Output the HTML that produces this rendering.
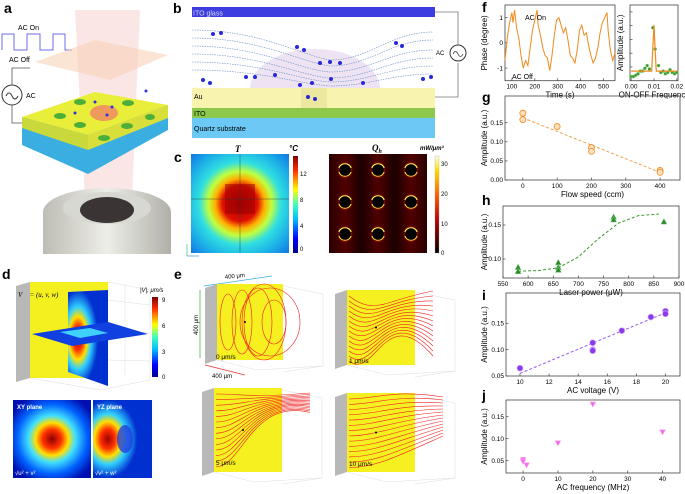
<!DOCTYPE html>
<html><head><meta charset="utf-8"><style>
html,body{margin:0;padding:0;background:#fff}
svg{display:block;font-family:"Liberation Sans",sans-serif}
</style></head><body>
<svg id="fig" width="685" height="494" viewBox="0 0 685 494" xmlns="http://www.w3.org/2000/svg">
<defs>
<linearGradient id="jetV" x1="0" y1="1" x2="0" y2="0"><stop offset="0" stop-color="#00008f"/><stop offset=".15" stop-color="#0000ff"/><stop offset=".35" stop-color="#00c0ff"/><stop offset=".5" stop-color="#40ffc0"/><stop offset=".65" stop-color="#ffff00"/><stop offset=".85" stop-color="#ff3000"/><stop offset="1" stop-color="#800000"/></linearGradient>
<linearGradient id="hot" x1="0" y1="1" x2="0" y2="0"><stop offset="0" stop-color="#000"/><stop offset=".35" stop-color="#c00000"/><stop offset=".6" stop-color="#ff6000"/><stop offset=".85" stop-color="#ffe000"/><stop offset="1" stop-color="#ffffe0"/></linearGradient>
<radialGradient id="tmap" cx=".5" cy=".5" r=".72"><stop offset="0" stop-color="#a00000"/><stop offset=".25" stop-color="#e01000"/><stop offset=".35" stop-color="#ffb000"/><stop offset=".45" stop-color="#c0ff40"/><stop offset=".58" stop-color="#30e0e0"/><stop offset=".8" stop-color="#1aa8e8"/><stop offset="1" stop-color="#1070e0"/></radialGradient>
<radialGradient id="vxy" cx=".5" cy=".5" r=".6"><stop offset="0" stop-color="#900000"/><stop offset=".2" stop-color="#ff3000"/><stop offset=".35" stop-color="#ffe000"/><stop offset=".5" stop-color="#40e0ff"/><stop offset=".75" stop-color="#0060ff"/><stop offset="1" stop-color="#0010b0"/></radialGradient>
<radialGradient id="vyz" cx=".25" cy=".5" r=".5"><stop offset="0" stop-color="#a00000"/><stop offset=".25" stop-color="#ff3000"/><stop offset=".45" stop-color="#ffe000"/><stop offset=".65" stop-color="#30d0ff"/><stop offset="1" stop-color="#0030d0"/></radialGradient>
<radialGradient id="glow" cx=".5" cy=".5" r=".5"><stop offset=".5" stop-color="#ff3000" stop-opacity=".9"/><stop offset="1" stop-color="#300000" stop-opacity="0"/></radialGradient>
<linearGradient id="qcol" x1="0" y1="0" x2="1" y2="0"><stop offset="0" stop-color="#2a0000"/><stop offset=".17" stop-color="#500000"/><stop offset=".33" stop-color="#1a0000"/><stop offset=".5" stop-color="#500000"/><stop offset=".67" stop-color="#1a0000"/><stop offset=".83" stop-color="#500000"/><stop offset="1" stop-color="#2a0000"/></linearGradient>
<linearGradient id="objg" x1="0" y1="0" x2="1" y2="0"><stop offset="0" stop-color="#bdbdb5"/><stop offset=".5" stop-color="#eeeee8"/><stop offset="1" stop-color="#b0b0a8"/></linearGradient>
</defs>

<g font-weight="bold" font-size="14" fill="#000">
<text x="4" y="13">a</text><text x="173" y="13">b</text><text x="174" y="162">c</text>
<text x="2" y="279">d</text><text x="174" y="279">e</text><text x="482" y="12">f</text>
<text x="482" y="102">g</text><text x="482" y="205">h</text><text x="482" y="300">i</text><text x="482" y="400">j</text>
</g>

<g>
<polyline points="2,50 2,34 14,34 14,50 27,50 27,34 40,34 40,50 53,50 53,34 65,34 65,50 72,50" fill="none" stroke="#6d6de8" stroke-width="1"/>
<text x="18" y="30" font-size="7">AC On</text><text x="9" y="62" font-size="7">AC Off</text>
<circle cx="12" cy="95" r="10" fill="none" stroke="#333"/><path d="M6,96 q3,-6 6,0 q3,6 6,0" fill="none" stroke="#333"/>
<text x="26" y="98" font-size="7">AC</text>
<polyline points="12,85 12,68 30,68" fill="none" stroke="#555" stroke-width=".8"/><polyline points="12,105 12,123 28,123" fill="none" stroke="#555" stroke-width=".8"/>
<polygon points="75,10 140,10 132,200 85,200" fill="#f6c8c8" opacity=".45"/>
<polygon points="22,117 22,145 88,174 168,130 168,105 88,135" fill="#3aaee0"/>
<polygon points="22,117 95,92 168,105 88,135" fill="#e9ee3a"/>
<polygon points="22,117 88,135 88,150 22,128" fill="#c9d83a"/>
<polygon points="88,135 168,105 168,118 88,150" fill="#d8df3a"/>
<g fill="#4caf3a"><ellipse cx="60" cy="116" rx="6" ry="3"/><ellipse cx="80" cy="125" rx="6" ry="3"/><ellipse cx="80" cy="102" rx="6" ry="3"/><ellipse cx="128" cy="103" rx="6" ry="3"/><ellipse cx="127" cy="126" rx="6" ry="3"/><ellipse cx="104" cy="138" rx="6" ry="3"/><ellipse cx="150" cy="117" rx="5" ry="3"/></g>
<ellipse cx="104" cy="113" rx="14" ry="8" fill="#f09060" opacity=".9"/>
<polygon points="35,62 95,40 168,55 110,80" fill="#f8d2b8" opacity=".6"/>
<ellipse cx="107" cy="212" rx="64" ry="24" fill="url(#objg)"/>
<rect x="43" y="212" width="128" height="42" fill="url(#objg)"/>
<ellipse cx="107" cy="208" rx="44" ry="16" fill="#d8d8d2"/>
<ellipse cx="107" cy="210" rx="27" ry="13" fill="#3a3434"/>
<g fill="#3030e0"><circle cx="95" cy="102" r="1.5"/><circle cx="112" cy="107" r="1.5"/><circle cx="75" cy="113" r="1.5"/><circle cx="146" cy="91" r="1.5"/><circle cx="107" cy="115" r="1.5"/></g>
</g>

<g>
<rect x="192" y="7" width="243" height="10" fill="#3c3ce0"/><text x="193" y="15.5" font-size="7" fill="#dde">ITO glass</text>
<ellipse cx="315" cy="89" rx="65" ry="40" fill="#e8dcf0" opacity=".8"/>
<rect x="192" y="88" width="243" height="20" fill="#f8f4b0"/>
<rect x="301" y="88" width="26" height="20" fill="#ece8a0"/>
<rect x="192" y="108" width="243" height="10" fill="#8cc84a"/>
<rect x="192" y="118" width="243" height="20" fill="#6cc8f4"/>
<text x="194" y="99" font-size="7">Au</text><text x="194" y="116" font-size="7">ITO</text><text x="194" y="131" font-size="7">Quartz substrate</text>
<polyline points="435,12 458,12 458,44" fill="none" stroke="#777" stroke-width=".8"/><polyline points="458,63 458,97 435,97" fill="none" stroke="#777" stroke-width=".8"/>
<circle cx="458" cy="53" r="8" fill="#fff" stroke="#333"/><path d="M453,54 q2.5,-5 5,0 q2.5,5 5,0" fill="none" stroke="#333" stroke-width=".8"/>
<text x="436" y="55" font-size="6">AC</text>
<g fill="none" stroke="#6b8fc8" stroke-width=".6" stroke-dasharray="1.5,1">
<path d="M192,30 C260,30 300,55 330,60 C370,60 390,32 433,32"/>
<path d="M192,38 C260,38 300,62 330,66 C370,66 390,40 433,40"/>
<path d="M192,46 C260,46 300,70 330,72 C370,72 390,50 433,50"/>
<path d="M192,54 C260,54 300,76 330,78 C370,78 390,58 433,58"/>
<path d="M192,62 C260,62 300,80 330,82 C370,82 390,66 433,66"/>
<path d="M192,70 C260,70 300,84 330,86 C370,86 390,74 433,74"/>
</g>
<g fill="#2828d8"><circle cx="213" cy="34" r="2"/><circle cx="221" cy="33" r="2"/><circle cx="297" cy="47" r="2"/><circle cx="304" cy="50" r="2"/><circle cx="320" cy="63" r="2"/><circle cx="330" cy="62" r="2"/><circle cx="340" cy="63" r="2"/><circle cx="396" cy="43" r="2"/><circle cx="402" cy="46" r="2"/><circle cx="246" cy="77" r="2"/><circle cx="255" cy="77" r="2"/><circle cx="203" cy="80" r="2"/><circle cx="210" cy="83" r="2"/><circle cx="312" cy="83" r="2"/><circle cx="300" cy="85" r="2"/><circle cx="308" cy="97" r="2"/><circle cx="315" cy="99" r="2"/><circle cx="331" cy="79" r="2"/><circle cx="363" cy="83" r="2"/><circle cx="423" cy="79" r="2"/><circle cx="431" cy="77" r="2"/><circle cx="275" cy="75" r="2"/></g>
</g>

<g>
<text x="235" y="152" font-size="9" font-style="italic" font-weight="bold" font-family="Liberation Serif,serif">T</text>
<text x="289" y="151" font-size="8" font-style="italic" font-weight="bold">°C</text>
<rect x="191" y="154" width="98" height="99" fill="url(#tmap)"/>
<rect x="225" y="184" width="30" height="30" fill="#9a0000" opacity=".5"/>
<line x1="240" y1="154" x2="240" y2="253" stroke="#333" stroke-width=".4"/><line x1="191" y1="199" x2="289" y2="199" stroke="#333" stroke-width=".4"/>
<rect x="293" y="156" width="5" height="97" fill="url(#jetV)"/>
<g font-size="6"><text x="300" y="176">12</text><text x="300" y="202">8</text><text x="300" y="228">4</text><text x="300" y="251">0</text></g>
<text x="372" y="151" font-size="9" font-style="italic" font-weight="bold" font-family="Liberation Serif,serif">Q<tspan font-size="6" dy="2">h</tspan></text>
<text x="420" y="150" font-size="6" font-style="italic" font-weight="bold">mW/μm³</text>
<rect x="329" y="154" width="98" height="99" fill="url(#qcol)"/>
<g id="qh"></g>
<rect x="435" y="156" width="4" height="97" fill="url(#hot)" stroke="#999" stroke-width=".3"/>
<g font-size="6"><text x="441" y="166">30</text><text x="441" y="196">20</text><text x="441" y="226">10</text><text x="441" y="255">0</text></g>
<g stroke-width=".6" fill="none"><path d="M187,256 L187,244" stroke="#2a8"/><path d="M187,256 L199,256" stroke="#28c"/></g>
</g>

<g>
<g stroke="#ddd" stroke-width=".5" fill="none"><path d="M108,282 L150,290 L150,380 M108,300 L150,305 M108,330 L150,333 M108,360 L150,361 M125,285 L125,375 M30,378 L100,390 L150,380"/></g>
<polygon points="16,286 30,282 30,378 16,382" fill="#b8b8b8"/>
<rect x="30" y="282" width="78" height="96" fill="#f4f020"/>
<text x="18" y="297" font-size="7" font-style="italic" font-family="Liberation Serif,serif">V⃗ = (u, v, w)</text>
<polygon points="68,292 108,290 108,386 68,372" fill="url(#vyz)"/>
<polygon points="32,334 108,322 148,334 72,346" fill="#1040e0"/>
<polygon points="60,332 90,328 108,333 80,338" fill="#40d0ff"/>
<rect x="152" y="297" width="6" height="80" fill="url(#jetV)"/>
<text x="140" y="292" font-size="6" font-style="italic">|V|, μm/s</text>
<g font-size="6"><text x="162" y="302">9</text><text x="162" y="328">6</text><text x="162" y="354">3</text><text x="162" y="379">0</text></g>
<rect x="13" y="400" width="78" height="78" fill="url(#vxy)"/>
<rect x="93" y="400" width="59" height="78" fill="url(#vyz)"/>
<ellipse cx="125" cy="439" rx="8" ry="14" fill="#2040e0" opacity=".8"/>
<text x="17" y="409" font-size="6" fill="#fff" font-weight="bold">XY plane</text><text x="97" y="409" font-size="6" fill="#fff" font-weight="bold">YZ plane</text>
<text x="15" y="475" font-size="6" fill="#fff">√u² + v²</text><text x="95" y="475" font-size="6" fill="#fff">√v² + w²</text>
</g>

<g>
<line x1="204" y1="286" x2="272" y2="276" stroke="#3ab0e8" stroke-width=".7"/><text x="225" y="279" font-size="6" transform="rotate(-6 225 279)">400 μm</text>
<line x1="200" y1="290" x2="200" y2="358" stroke="#3a3" stroke-width=".7"/><text x="198" y="335" font-size="6" transform="rotate(-90 198 335)">400 μm</text>
<line x1="205" y1="365" x2="245" y2="375" stroke="#e33" stroke-width=".7"/><text x="212" y="378" font-size="6">400 μm</text>
<g id="eboxes"></g>
<g font-size="6.5"><text x="216" y="359">0 μm/s</text><text x="349" y="363">1 μm/s</text><text x="216" y="465">5 μm/s</text><text x="349" y="466">10 μm/s</text></g>
</g>

<g id="charts"></g>
</svg>
<script>
var fTime=[70,80,90,100,105,112,120,130,140,150,160,170,180,190,200,210,215,225,235,245,255,265,275,285,295,305,315,325,335,345,355,365,375,385,395,405,415,425,435,445,455,465,475,485,495,505,515,520,530,540,550];
var fPhase=[-0.7,0.2,0.8,1.2,0.8,1.3,0.6,0.2,-0.5,-1.0,-0.7,-0.9,-0.2,0.5,0.9,1.3,0.7,0.3,-0.2,-0.5,-0.6,-1.1,-0.5,0.3,0.9,1.0,0.7,0.4,0.6,0.1,-0.5,-0.6,-0.8,-0.3,0.5,0.7,0.3,0.4,-0.1,-0.5,-0.8,-0.6,-0.2,0.4,0.8,1.0,1.2,0.5,-0.3,-0.7,-0.4];
var fFreqFit=[0,0.009,0.0095,0.01,0.0105,0.011,0.02];
var fAmpFit=[0.14,0.14,0.5,0.81,0.45,0.14,0.14];
var fFreqPts=[0,0.001,0.002,0.003,0.004,0.005,0.006,0.007,0.008,0.0095,0.0105,0.012,0.013,0.014,0.015,0.016,0.017,0.018,0.019,0.02];
var fAmpPts=[0.06,0.06,0.08,0.1,0.14,0.14,0.18,0.22,0.17,0.77,0.46,0.22,0.12,0.14,0.1,0.12,0.16,0.12,0.1,0.12];
var gFlow=[0,0,100,200,200,400,400];
var gAmp=[0.175,0.158,0.14,0.085,0.075,0.025,0.02];
var gFitX=[0,400], gFitY=[0.163,0.02];
var hPower=[580,580,660,660,660,770,770,870];
var hAmp=[0.088,0.082,0.095,0.088,0.084,0.162,0.158,0.155];
var hFitX=[580,620,660,700,740,780,820,860];
var hFitY=[0.082,0.083,0.087,0.103,0.13,0.153,0.164,0.166];
var iVolt=[10,15,15,15,17,19,20,20];
var iAmp=[0.065,0.113,0.10,0.098,0.136,0.162,0.173,0.168];
var iFitX=[10,20], iFitY=[0.055,0.17];
var jFreq=[0,0,1,10,20,40];
var jAmp=[0.052,0.048,0.04,0.09,0.178,0.115];
var fTimeTicks=[100,200,300,400,500], fPhaseTicks=[-1,0,1];
var fFreqTicks=[0,0.01,0.02], fFreqTickLabels=["0.00","0.01","0.02"];
var gXTicks=[0,100,200,300,400], gYTicks=[0,0.05,0.10,0.15], gYTickLabels=["0.00","0.05","0.10","0.15"];
var hXTicks=[550,600,650,700,750,800,850,900], hYTicks=[0.10,0.15], hYTickLabels=["0.10","0.15"];
var iXTicks=[10,12,14,16,18,20], iYTicks=[0.05,0.10,0.15], iYTickLabels=["0.05","0.10","0.15"];
var jXTicks=[0,10,20,30,40], jYTicks=[0.05,0.10,0.15], jYTickLabels=["0.05","0.10","0.15"];

var NS="http://www.w3.org/2000/svg";
function mk(tag,attrs,parent){var e=document.createElementNS(NS,tag);for(var k in attrs)e.setAttribute(k,attrs[k]);(parent||document.getElementById('charts')).appendChild(e);return e;}
function scale(d0,d1,r0,r1){return function(v){return r0+(v-d0)/(d1-d0)*(r1-r0);};}
function axes(name,x0,y0,x1,y1,sx,sy,xt,xl,yt,yl,xlabel,ylabel,ylabx){
  var g=mk('g',{});
  
  
  mk('rect',{x:x0,y:y0,width:x1-x0,height:y1-y0,fill:'none',stroke:'#444','stroke-width':0.8},g);
  xt.forEach(function(v,i){var x=sx(v);mk('line',{x1:x,y1:y1,x2:x,y2:y1-2.5,stroke:'#444','stroke-width':.7},g);
    var t=mk('text',{x:x,y:y1+8,'font-size':6.5,'text-anchor':'middle'},g);t.textContent=xl?xl[i]:v;});
  yt.forEach(function(v,i){var y=sy(v);mk('line',{x1:x0,y1:y,x2:x0+2.5,y2:y,stroke:'#444','stroke-width':.7},g);
    if(yl){var t=mk('text',{x:x0-2,y:y+2.2,'font-size':6.5,'text-anchor':'end'},g);t.textContent=yl[i];}});
  var t=mk('text',{x:(x0+x1)/2,y:y1+17,'font-size':8,'text-anchor':'middle'},g);t.textContent=xlabel;
  
  
  var yc=(y0+y1)/2;var t2=mk('text',{x:ylabx,y:yc,'font-size':8,'text-anchor':'middle',transform:'rotate(-90 '+ylabx+' '+yc+')'},g);t2.textContent=ylabel;
  
  
  return g;
}
function line(xs,ys,sx,sy,attrs,g){var p=xs.map(function(x,i){return sx(x).toFixed(1)+','+sy(ys[i]).toFixed(1);}).join(' ');attrs.points=p;attrs.fill='none';var e=mk('polyline',attrs,g);return e;}

var fsx=scale(70,550,505,615), fsy=scale(-1.5,1.5,80.7,5);
var gf=axes('phase-chart',505,5,615,80.7,fsx,fsy,fTimeTicks,null,fPhaseTicks,["-1","0","1"],'Time (s)','Phase (degree)',487);
var pl=line(fTime,fPhase,fsx,fsy,{stroke:'#f08a1c','stroke-width':1},gf);


var t=mk('text',{x:525,y:20,'font-size':7},gf);t.textContent='AC On';
t=mk('text',{x:512,y:79,'font-size':7},gf);t.textContent='AC Off';
var frx=scale(-0.0005,0.0205,630,678), fry=scale(0,1.1,80.7,5);
var gfr=axes('spectrum-chart',630,5,678,80.7,frx,fry,fFreqTicks,fFreqTickLabels,[0.2,0.4,0.6,0.8,1.0],null,'ON-OFF Frequency','Amplitude (a.u.)',623);
fAmpPts.forEach(function(v,i){var c=mk('circle',{cx:frx(fFreqPts[i]),cy:fry(v),r:1.6,fill:'#3a9a2a',stroke:'#9d9','stroke-width':.4},gfr);
  
  });
var fl=line(fFreqFit,fAmpFit,frx,fry,{stroke:'#f08a1c','stroke-width':1.2},gfr);



var gsx=scale(-52,458,505,680), gsy=scale(0,0.22,180,96);
var gg=axes('flow-speed-chart',505,96,680,180,gsx,gsy,gXTicks,null,gYTicks,gYTickLabels,'Flow speed (ccm)','Amplitude (a.u.)',487);
var gl=line(gFitX,gFitY,gsx,gsy,{stroke:'#f0a050','stroke-width':1,'stroke-dasharray':'3,2'},gg);


gAmp.forEach(function(v,i){var c=mk('circle',{cx:gsx(gFlow[i]),cy:gsy(v),r:3,fill:'#fde0c0',stroke:'#f08a1c','stroke-width':.8},gg);
  
  });

var hsx=scale(550,900,503,679), hsy=scale(0.10,0.15,259,225);
var gh=axes('laser-power-chart',503,206,679,278,hsx,hsy,hXTicks,null,hYTicks,hYTickLabels,'Laser power (μW)','Amplitude (a.u.)',487);
var hl=line(hFitX,hFitY,hsx,hsy,{stroke:'#3a9a2a','stroke-width':1,'stroke-dasharray':'3,2'},gh);


hAmp.forEach(function(v,i){var x=hsx(hPower[i]),y=hsy(v);var c=mk('polygon',{points:(x-3)+','+(y+2.5)+' '+(x+3)+','+(y+2.5)+' '+x+','+(y-3),fill:'#2a8a2a',stroke:'#8c8','stroke-width':.5},gh);
  
  });

var isx=scale(9.04,21,506,680), isy=scale(0.05,0.15,376,323.3);
var gi=axes('ac-voltage-chart',506,293,680,376,isx,isy,iXTicks,null,iYTicks,iYTickLabels,'AC voltage (V)','Amplitude (a.u.)',487);
var il=line(iFitX,iFitY,isx,isy,{stroke:'#9a5af0','stroke-width':1,'stroke-dasharray':'3,2'},gi);


iAmp.forEach(function(v,i){var c=mk('circle',{cx:isx(iVolt[i]),cy:isy(v),r:3,fill:'#8a3ae8',stroke:'#d0b0ff','stroke-width':.7},gi);
  
  });

var jsx=scale(-4.9,45,506,680), jsy=scale(0.05,0.15,460.7,416.7);
var gj=axes('ac-frequency-chart',506,400,680,473,jsx,jsy,jXTicks,null,jYTicks,jYTickLabels,'AC frequency (MHz)','Amplitude (a.u.)',487);
jAmp.forEach(function(v,i){var x=jsx(jFreq[i]),y=jsy(v);var c=mk('polygon',{points:(x-3)+','+(y-2.5)+' '+(x+3)+','+(y-2.5)+' '+x+','+(y+3),fill:'#f070f0',stroke:'#fbd','stroke-width':.5},gj);
  
  });

var qg=document.getElementById('qh');
[345,378,411].forEach(function(cx){[170,202,234].forEach(function(cy){
  var c=mk('ellipse',{cx:cx,cy:cy,rx:9,ry:10,fill:'url(#glow)'},qg);
  
  
  mk('path',{d:'M'+(cx-6)+','+(cy-2)+' A6.5,6.5 0 0 1 '+(cx+6)+','+(cy-2),stroke:'#ffee60','stroke-width':1.6,fill:'none'},qg);
  mk('path',{d:'M'+(cx-6)+','+(cy+2)+' A6.5,6.5 0 0 0 '+(cx+6)+','+(cy+2),stroke:'#ffd040','stroke-width':1.4,fill:'none'},qg);
  mk('circle',{cx:cx,cy:cy,r:5.8,fill:'#000'},qg);});});

var eb=document.getElementById('eboxes');
[[205,284,66,76],[335,290,68,75],[202,388,68,84],[335,393,68,79]].forEach(function(b,k){
  var x=b[0],y=b[1],w=b[2],h=b[3];
  var bg=mk('g',{},eb);
  
  
  mk('path',{d:'M'+(x+12+w)+','+(y+2)+' l40,8 l0,'+(h-4)+' l-40,6 M'+(x+12)+','+(y+h)+' l40,10 l'+w+',-4',stroke:'#ddd','stroke-width':.5,fill:'none'},bg);
  mk('polygon',{points:x+','+(y+4)+' '+(x+12)+','+y+' '+(x+12)+','+(y+h)+' '+x+','+(y+h+4),fill:'#b8b8b8'},bg);
  mk('rect',{x:x+12,y:y,width:w,height:h,fill:'#f6f020'},bg);
  if(k==0){
    [[-22,8,28],[-8,10,32],[8,14,34],[14,22,38],[20,30,34],[24,12,22]].forEach(function(r){
      mk('ellipse',{cx:x+12+w/2+r[0],cy:y+h/2,rx:r[1],ry:r[2],stroke:'#f02020','stroke-width':.6,fill:'none'},bg);});
  } else {
  for(var i=0;i<14;i++){var yy=y+6+i*h/15;var d;
    if(k==1){d='M'+(x+14)+','+yy+' C'+(x+40)+','+(yy+20)+' '+(x+50)+','+(y+10)+' '+(x+w+30)+','+(yy-5);}
    else if(k==2){d='M'+(x+14)+','+yy+' C'+(x+40)+','+yy+' '+(x+50)+','+(y+10)+' '+(x+w+40)+','+(y+5+i*1.5);}
    else {d='M'+(x+14)+','+yy+' C'+(x+40)+','+yy+' '+(x+60)+','+(yy-10)+' '+(x+w+40)+','+(y+4+i*3);}
    mk('path',{d:d,stroke:'#f02020','stroke-width':.6,fill:'none'},bg);}
  }
  mk('circle',{cx:x+12+w/2-5,cy:y+h/2,r:1,fill:'#000'},bg);
});
</script>
</body></html>
